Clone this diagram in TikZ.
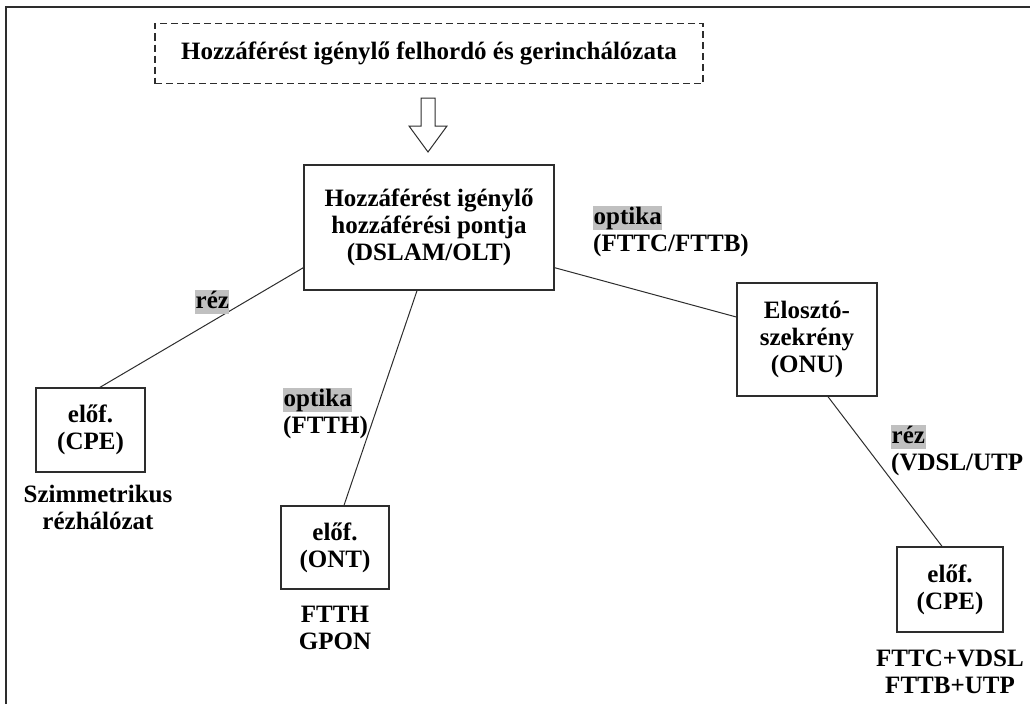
\documentclass[tikz,border=0pt]{standalone}
\usepackage{fontspec}
\setmainfont{Liberation Serif}
\usetikzlibrary{calc}
\definecolor{linegray}{RGB}{45,45,45}
\definecolor{hlgray}{RGB}{192,192,192}
\begin{document}
\begin{tikzpicture}[x=1pt,y=-1pt,
  every node/.style={font=\bfseries\fontsize{25}{27}\selectfont, text=black},
  box/.style={draw=linegray, line width=1.4pt, inner sep=0pt, align=center},
  dashbox/.style={box, dashed, dash pattern=on 7pt off 4pt, line width=1.3pt},
  link/.style={draw=linegray, line width=1pt},
  hl/.style={fill=hlgray, inner xsep=0.5pt, inner ysep=0.5pt, text height=17.5pt, text depth=5pt},
  plain/.style={inner sep=0pt, align=center},
  lbl/.style={inner sep=0pt, anchor=base west}]
\useasboundingbox (0,0) rectangle (1030,704);

% page frame
\draw[line width=1.5pt, draw=linegray] (6,704) -- (6,7) -- (1030,7);

% backbone network (dashed) and hollow arrow
\node[dashbox, minimum width=548pt, minimum height=60pt] (core) at (429,53.5)
  {Hozzáférést igénylő felhordó és gerinchálózata};
\coordinate (arr) at (428,98);
\draw[draw=linegray, line width=1pt, fill=white]
  ($(arr)+(-7,0)$) -- ($(arr)+(7,0)$) -- ($(arr)+(7,28)$) -- ($(arr)+(19,28)$)
  -- ($(arr)+(0,54)$) -- ($(arr)+(-19,28)$) -- ($(arr)+(-7,28)$) -- cycle;

% access point
\node[box, minimum width=250pt, minimum height=125pt] (olt) at (429,227.5)
  {\fontsize{25}{25}\selectfont Hozzáférést igénylő\\hozzáférési pontja\\(DSLAM/OLT)};

% street cabinet
\node[box, minimum width=140pt, minimum height=113pt] (onu) at (807,339.5)
  {\fontsize{25}{27.5}\selectfont Elosztó-\\szekrény\\(ONU)};

% subscriber equipment
\node[box, minimum width=109pt, minimum height=84pt] (cpeL) at (90.5,430)
  {\fontsize{25}{28}\selectfont előf.\\(CPE)};
\node[box, minimum width=108pt, minimum height=83pt] (ont) at (335,547.5)
  {\fontsize{25}{28}\selectfont előf.\\(ONT)};
\node[box, minimum width=106pt, minimum height=85pt] (cpeR) at (950,589.5)
  {\fontsize{25}{28}\selectfont előf.\\(CPE)};

% captions under the equipment
\node[plain, anchor=north] (capL) at (98,485)
  {\fontsize{25}{27}\selectfont Szimmetrikus\\rézhálózat};
\node[plain, anchor=north] (capM) at (335,606)
  {\fontsize{25}{29}\selectfont FTTH\\GPON};
\node[plain, anchor=north] (capR) at (950,650)
  {\fontsize{25}{28}\selectfont FTTC+VDSL\\FTTB+UTP};

% links
\draw[link] ([yshift=23pt]olt.south west) -- ([xshift=9.5pt]cpeL.north);
\draw[link] ([xshift=-12pt]olt.south) -- ([xshift=9pt]ont.north);
\draw[link] ([yshift=23pt]olt.south east) -- ([yshift=22.5pt]onu.west);
\draw[link] ([xshift=21pt]onu.south) -- ([xshift=-8pt]cpeR.north);

% medium labels
\node[hl, anchor=north west] (rezL) at (195,290) {réz};
\node[hl, anchor=north west] (optM) at (283,388) {optika};
\node[lbl] (ftth) at ([yshift=-27pt]optM.base west) {(FTTH)};
\node[hl, anchor=north west] (optR) at (593,206) {optika};
\node[lbl] (fttcb) at ([yshift=-27pt]optR.base west) {(FTTC/FTTB)};
\node[hl, anchor=north west] (rezR) at (891,425) {réz};
\node[lbl] (vdsl) at ([yshift=-27pt]rezR.base west) {(VDSL/UTP};
\end{tikzpicture}
\end{document}
